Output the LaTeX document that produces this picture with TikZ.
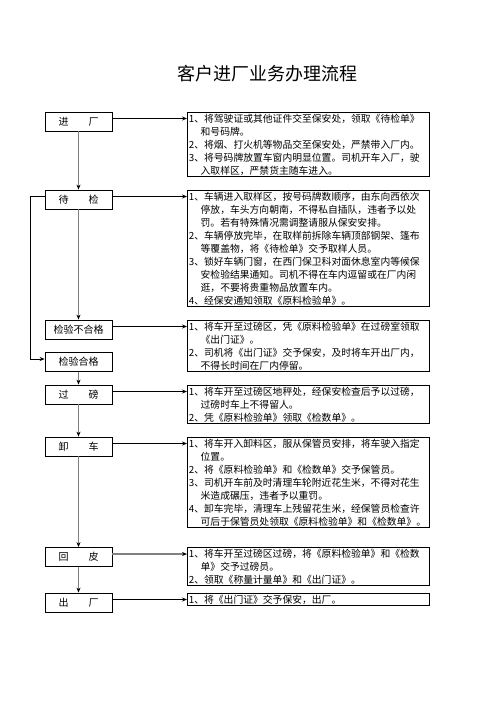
\documentclass[tikz,border=0pt]{standalone}
\usepackage{fontspec}
\setmainfont{Noto Sans CJK SC}
\usetikzlibrary{arrows.meta}

\tikzset{
  blacktip/.style={-{Stealth[black,length=5pt,width=4pt]}},
  flow/.style={draw=gray,line width=1.6pt,blacktip},
  link/.style={draw=black,line width=0.8pt,blacktip},
}

\begin{document}
\begin{tikzpicture}[x=1pt,y=-1pt]

      \useasboundingbox (0,0) rectangle (496,702);

      \node[font=\fontsize{18pt}{20pt}\selectfont] (title) at (267,74) {客户进厂业务办理流程};

      \begin{scope}[every node/.style={draw,line width=0.8pt,minimum width=67pt,minimum height=19pt,inner sep=0pt,font=\fontsize{10pt}{12pt}\selectfont}]
        \node (s1) at (78.5,121.5) {进\hspace{2em}厂};
        \node (s2) at (78.5,199.5) {待\hspace{2em}检};
        \node (s3) at (78.5,329.5) {检验不合格};
        \node (s4) at (78.5,362)   {检验合格};
        \node (s5) at (78.5,394.5) {过\hspace{2em}磅};
        \node (s6) at (78.5,446.5) {卸\hspace{2em}车};
        \node (s7) at (78.5,557)   {回\hspace{2em}皮};
        \node (s8) at (78.5,602.5) {出\hspace{2em}厂};
      \end{scope}

      \begin{scope}[every node/.style={draw,line width=0.8pt,anchor=north west,text width=239pt,inner xsep=1.5pt,inner ysep=1.5pt,align=left,font=\fontsize{9.8pt}{13pt}\selectfont}]
        \node (d1) at (187,112) {1、将驾驶证或其他证件交至保安处，领取《待检单》\\
          \hspace*{1.2em}和号码牌。\\
          2、将烟、打火机等物品交至保安处，严禁带入厂内。\\
          3、将号码牌放置车窗内明显位置。司机开车入厂，驶\\
          \hspace*{1.2em}入取样区，严禁货主随车进入。};
        \node (d2) at (187,190) {1、车辆进入取样区，按号码牌数顺序，由东向西依次\\
          \hspace*{1.2em}停放，车头方向朝南，不得私自插队，违者予以处\\
          \hspace*{1.2em}罚。若有特殊情况需调整请服从保安安排。\\
          2、车辆停放完毕，在取样前拆除车辆顶部钢架、篷布\\
          \hspace*{1.2em}等覆盖物，将《待检单》交予取样人员。\\
          3、锁好车辆门窗，在西门保卫科对面休息室内等候保\\
          \hspace*{1.2em}安检验结果通知。司机不得在车内逗留或在厂内闲\\
          \hspace*{1.2em}逛，不要将贵重物品放置车内。\\
          4、经保安通知领取《原料检验单》。};
        \node (d3) at (187,320) {1、将车开至过磅区，凭《原料检验单》在过磅室领取\\
          \hspace*{1.2em}《出门证》。\\
          2、司机将《出门证》交予保安，及时将车开出厂内，\\
          \hspace*{1.2em}不得长时间在厂内停留。};
        \node (d5) at (187,385) {1、将车开至过磅区地秤处，经保安检查后予以过磅，\\
          \hspace*{1.2em}过磅时车上不得留人。\\
          2、凭《原料检验单》领取《检数单》。};
        \node (d6) at (187,437) {1、将车开入卸料区，服从保管员安排，将车驶入指定\\
          \hspace*{1.2em}位置。\\
          2、将《原料检验单》和《检数单》交予保管员。\\
          3、司机开车前及时清理车轮附近花生米，不得对花生\\
          \hspace*{1.2em}米造成碾压，违者予以重罚。\\
          4、卸车完毕，清理车上残留花生米，经保管员检查许\\
          \hspace*{1.2em}可后于保管员处领取《原料检验单》和《检数单》。};
        \node (d7) at (187,547) {1、将车开至过磅区过磅，将《原料检验单》和《检数\\
          \hspace*{1.2em}单》交予过磅员。\\
          2、领取《称量计量单》和《出门证》。};
        \node (d8) at (187,593) {1、将《出门证》交予保安，出厂。};
      \end{scope}

      % main flow
      \draw[flow] (s1) -- (s2);
      \draw[flow] (s2) -- (s3);
      \draw[flow] (s4) -- (s5);
      \draw[flow] (s5) -- (s6);
      \draw[flow] (s6) -- (s7);
      \draw[flow] (s7) -- (s8);

      \draw[link] ([yshift=3pt]s2.west) -- ++(-14,0) |- ([yshift=3pt]s4.west);

      % to the notes
      \draw[link] ([yshift=3pt]s1.east) -- ([yshift=3pt]s1.east -| d1.west);
      \draw[link] ([yshift=3pt]s2.east) -- ([yshift=3pt]s2.east -| d2.west);
      \draw[link] ([yshift=3pt]s3.east) -- ([yshift=3pt]s3.east -| d3.west);
      \draw[link] ([yshift=3pt]s5.east) -- ([yshift=3pt]s5.east -| d5.west);
      \draw[link] ([yshift=3pt]s6.east) -- ([yshift=3pt]s6.east -| d6.west);
      \draw[link,draw=gray,line width=1.6pt] ([yshift=3pt]s7.east) -- ([yshift=3pt]s7.east -| d7.west);
      \draw[link] ([yshift=3pt]s8.east) -- ([yshift=3pt]s8.east -| d8.west);

\end{tikzpicture}
\end{document}
